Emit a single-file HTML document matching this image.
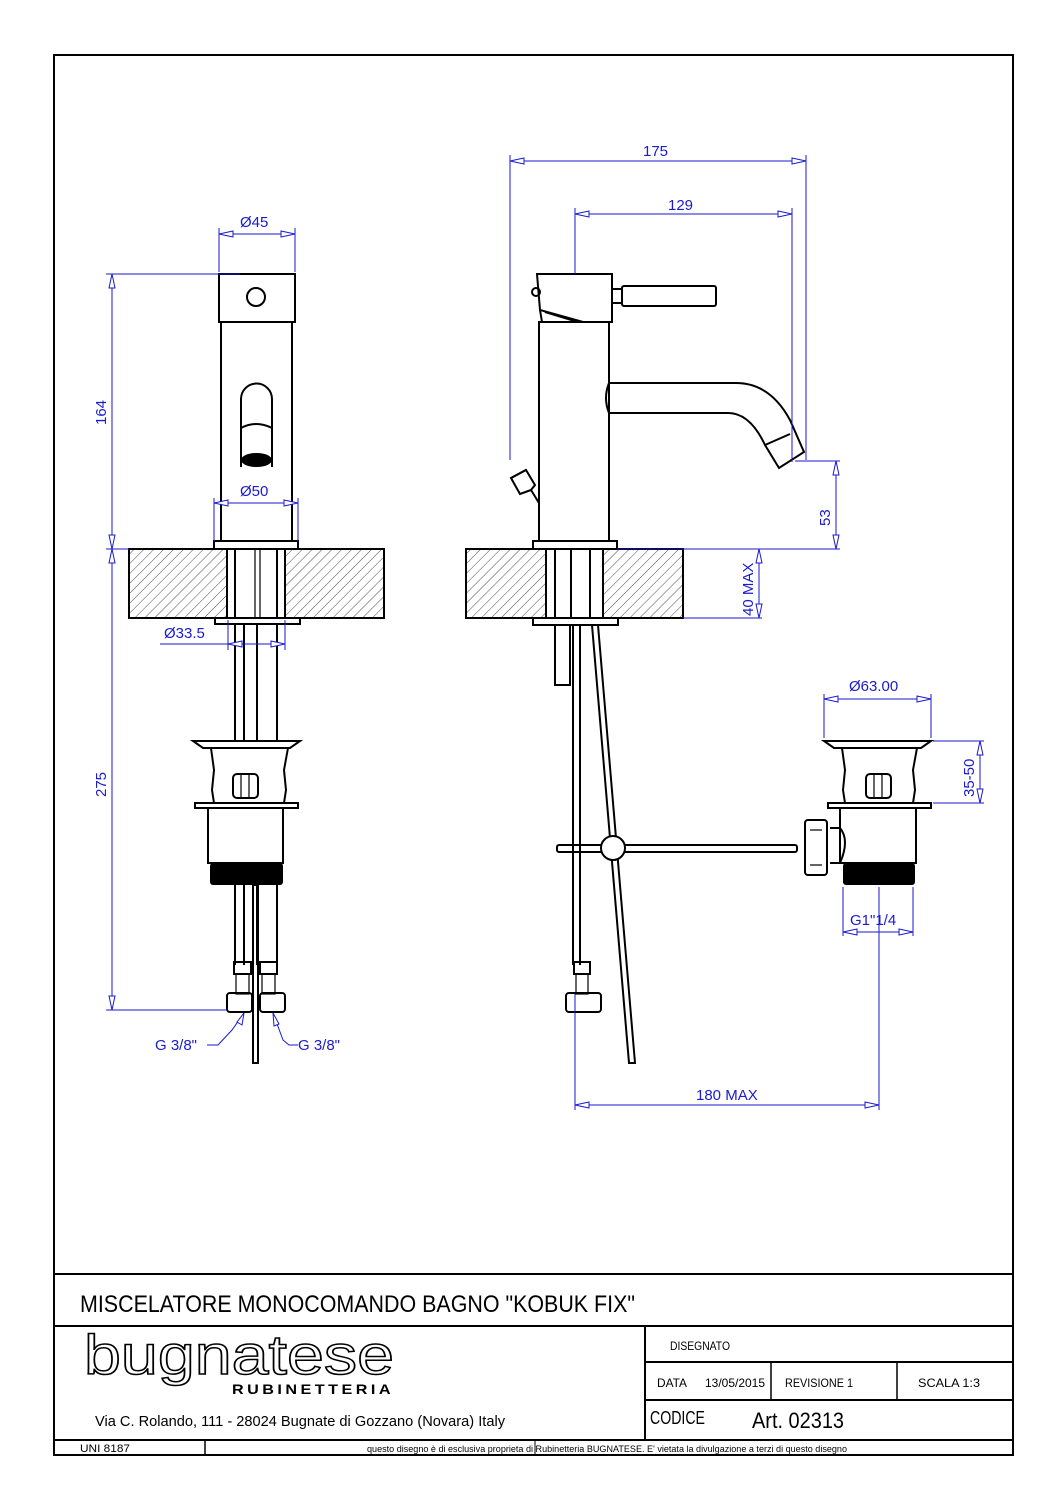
<!DOCTYPE html>
<html><head><meta charset="utf-8"><style>
html,body{margin:0;padding:0;background:#fff}
svg{display:block}
.k{fill:none;stroke:#000;stroke-width:2}
.t{fill:none;stroke:#000;stroke-width:1.2}
.b{fill:none;stroke:#1a1ad0;stroke-width:1}
.bt{fill:#1a1ad0;font-family:"Liberation Sans",sans-serif;font-size:15px}
.ar{fill:#fff;stroke:#1a1ad0;stroke-width:1}
.tb{font-family:"Liberation Sans",sans-serif;fill:#000}
</style></head><body>
<svg width="1060" height="1500" viewBox="0 0 1060 1500" xmlns="http://www.w3.org/2000/svg">
<defs>
<pattern id="h" width="7" height="7" patternUnits="userSpaceOnUse" patternTransform="rotate(45)">
<line x1="0" y1="0" x2="0" y2="7" stroke="#000" stroke-width="0.7"/></pattern>
</defs>
<!-- frame -->
<rect x="54" y="55" width="959" height="1400" fill="none" stroke="#000" stroke-width="2"/>
<line x1="54" y1="1274" x2="1013" y2="1274" stroke="#000" stroke-width="2"/>
<line x1="54" y1="1326" x2="1013" y2="1326" stroke="#000" stroke-width="2"/>
<line x1="645" y1="1326" x2="645" y2="1440" stroke="#000" stroke-width="2"/>
<line x1="645" y1="1362" x2="1013" y2="1362" stroke="#000" stroke-width="2"/>
<line x1="645" y1="1400" x2="1013" y2="1400" stroke="#000" stroke-width="2"/>
<line x1="771" y1="1362" x2="771" y2="1400" stroke="#000" stroke-width="1.5"/>
<line x1="897" y1="1362" x2="897" y2="1400" stroke="#000" stroke-width="1.5"/>
<line x1="54" y1="1440" x2="1013" y2="1440" stroke="#000" stroke-width="2"/>
<line x1="205" y1="1440" x2="205" y2="1455" stroke="#000" stroke-width="1.5"/>
<line x1="535" y1="1440" x2="535" y2="1455" stroke="#000" stroke-width="1"/>

<text class="tb" x="80" y="1312" font-size="24" textLength="555" lengthAdjust="spacingAndGlyphs">MISCELATORE MONOCOMANDO BAGNO "KOBUK FIX"</text>
<text x="84" y="1374" font-family="Liberation Sans,sans-serif" font-size="56" fill="#fff" stroke="#000" stroke-width="1.5" textLength="310" lengthAdjust="spacingAndGlyphs">bugnatese</text>
<text class="tb" x="232" y="1394" font-size="14" font-weight="bold" letter-spacing="3" textLength="162" lengthAdjust="spacingAndGlyphs">RUBINETTERIA</text>
<text class="tb" x="95" y="1426" font-size="15" textLength="410" lengthAdjust="spacingAndGlyphs">Via C. Rolando, 111 - 28024 Bugnate di Gozzano (Novara) Italy</text>
<text class="tb" x="670" y="1350" font-size="12" textLength="60" lengthAdjust="spacingAndGlyphs">DISEGNATO</text>
<text class="tb" x="657" y="1387" font-size="12" textLength="30" lengthAdjust="spacingAndGlyphs">DATA</text>
<text class="tb" x="705" y="1387" font-size="12" textLength="60" lengthAdjust="spacingAndGlyphs">13/05/2015</text>
<text class="tb" x="785" y="1387" font-size="12" textLength="68" lengthAdjust="spacingAndGlyphs">REVISIONE 1</text>
<text class="tb" x="918" y="1387" font-size="12" textLength="62" lengthAdjust="spacingAndGlyphs">SCALA   1:3</text>
<text class="tb" x="650" y="1424" font-size="18" textLength="55" lengthAdjust="spacingAndGlyphs">CODICE</text>
<text class="tb" x="752" y="1428" font-size="22" textLength="92" lengthAdjust="spacingAndGlyphs">Art. 02313</text>
<text class="tb" x="80" y="1452" font-size="11" textLength="50" lengthAdjust="spacingAndGlyphs">UNI 8187</text>
<text class="tb" x="367" y="1452" font-size="9" textLength="480" lengthAdjust="spacingAndGlyphs">questo disegno è di esclusiva proprieta di Rubinetteria BUGNATESE. E' vietata la divulgazione a terzi di questo disegno</text>

<!-- FRONT VIEW -->
<rect class="k" x="219" y="274" width="76" height="48"/>
<circle class="k" cx="256" cy="297" r="9"/>
<rect class="k" x="221" y="322" width="71" height="219"/>
<path class="k" d="M241,467 V399 A15.5,15.5 0 0 1 272,399 V467"/>
<path class="k" d="M241,428 Q256,420 272,428"/>
<ellipse cx="256.5" cy="460" rx="15.5" ry="7" fill="#000"/>
<rect class="k" x="214" y="541" width="84" height="8"/>
<rect x="129" y="549" width="98" height="69" fill="url(#h)" stroke="#000" stroke-width="2"/>
<rect x="285" y="549" width="99" height="69" fill="url(#h)" stroke="#000" stroke-width="2"/>
<line class="k" x1="235" y1="549" x2="235" y2="618"/>
<line class="k" x1="277" y1="549" x2="277" y2="618"/>
<line class="t" x1="255" y1="549" x2="255" y2="618"/>
<line class="t" x1="260" y1="549" x2="260" y2="618"/>
<path class="k" d="M215,618 H300 V624 H215 Z"/>
<line class="k" x1="235" y1="624" x2="235" y2="741"/>
<line class="k" x1="244" y1="624" x2="244" y2="741"/>
<line class="k" x1="257" y1="624" x2="257" y2="741"/>
<line class="k" x1="277" y1="624" x2="277" y2="741"/>
<path class="k" d="M193,741 H300 L290,748 H203 Z"/>
<path class="k" d="M211,748 L214,770 L212,790 L214,803 H284 L286,790 L284,770 L288,748"/>
<rect class="k" x="233" y="774" width="25" height="24" rx="4"/>
<line class="t" x1="241" y1="774" x2="241" y2="798"/><line class="t" x1="249" y1="774" x2="249" y2="798"/>
<rect class="k" x="195" y="803" width="103" height="5"/>
<path class="k" d="M208,808 V863 H283 V808"/>
<rect x="210" y="863" width="73" height="22" rx="3" fill="#000"/>
<line class="k" x1="235" y1="885" x2="235" y2="965"/>
<line class="k" x1="244" y1="885" x2="244" y2="965"/>
<line class="k" x1="257" y1="885" x2="257" y2="965"/>
<line class="k" x1="277" y1="885" x2="277" y2="965"/>
<rect class="k" x="253" y="885" width="5" height="178"/>
<rect class="k" x="234" y="962" width="17" height="12"/><rect class="k" x="260" y="962" width="17" height="12"/>
<rect class="t" x="236" y="974" width="13" height="20"/><rect class="t" x="262" y="974" width="13" height="20"/>
<rect class="k" x="227" y="993" width="25" height="19" rx="3"/><rect class="k" x="260" y="993" width="25" height="19" rx="3"/>

<!-- front dims -->
<path class="b" d="M219,272 V228 M295,272 V228 M219,234 H295"/>
<path class="ar" d="M219,234 l14,-3 v6 z M295,234 l-14,-3 v6 z"/>
<text class="bt" x="240" y="227">Ø45</text>
<path class="b" d="M106,274 H240 M106,549 H129 M112,274 V1010 M106,1010 H227"/>
<path class="ar" d="M112,274 l-3,14 h6 z M112,549 l-3,-14 h6 z M112,549 l-3,14 h6 z M112,1010 l-3,-14 h6 z"/>
<text class="bt" transform="translate(106,425) rotate(-90)">164</text>
<text class="bt" transform="translate(106,797) rotate(-90)">275</text>
<path class="b" d="M214,498 V541 M298,498 V541 M214,503 H298"/>
<path class="ar" d="M214,503 l14,-3 v6 z M298,503 l-14,-3 v6 z"/>
<text class="bt" x="240" y="496">Ø50</text>
<path class="b" d="M228,620 V650 M285,620 V650 M160,644 H285"/>
<path class="ar" d="M228,644 l14,-3 v6 z M285,644 l-14,-3 v6 z"/>
<text class="bt" x="164" y="638">Ø33.5</text>
<path class="b" d="M244,1013 L232,1030 L218,1045 H207 M273,1013 L283,1040 L289,1045 H298"/>
<path class="ar" d="M244,1013 l-2,12 -5,-3 z M273,1013 l6,11 -5,2 z"/>
<text class="bt" x="155" y="1050">G 3/8"</text>
<text class="bt" x="298" y="1050">G 3/8"</text>

<!-- SIDE VIEW -->
<path class="k" d="M537,274 H612 V322 H583 L540,310 Z"/>
<circle class="k" cx="536" cy="292" r="4"/>
<rect class="k" x="612" y="289" width="10" height="14"/>
<rect class="k" x="622" y="286" width="94" height="20" rx="2"/>
<path class="k" d="M540,310 L542,322 M545,312 L578,322"/>
<rect class="k" x="539" y="322" width="70" height="219"/>
<path class="k" d="M609,383 H736 Q770,383 790,420 L804,452 L779,468 L765,445 Q750,413 728,413 H609 Q603,398 609,383"/>
<path class="k" d="M765,445 L790,434"/>
<path class="k" d="M539,503 L531,490 L535,485 L526,470 L511,478 L520,494 L531,490"/>
<path class="k" d="M511,478 L526,470"/>
<rect class="k" x="533" y="541" width="84" height="8"/>
<rect x="466" y="549" width="80" height="69" fill="url(#h)" stroke="#000" stroke-width="2"/>
<rect x="603" y="549" width="80" height="69" fill="url(#h)" stroke="#000" stroke-width="2"/>
<line class="k" x1="555" y1="549" x2="555" y2="618"/>
<line class="k" x1="571" y1="549" x2="571" y2="618"/>
<line class="k" x1="590" y1="549" x2="590" y2="618"/>
<path class="k" d="M533,618 H618 V625 H533 Z"/>
<rect class="k" x="555" y="625" width="15" height="60"/>
<line class="k" x1="573" y1="625" x2="573" y2="965"/>
<line class="k" x1="580" y1="625" x2="580" y2="965"/>
<path class="k" d="M592,625 L629,1063 H635 L598,625"/>
<rect class="k" x="557" y="845" width="240" height="7" rx="2"/>
<circle cx="613" cy="848" r="12" fill="#fff" stroke="#000" stroke-width="2"/>
<rect class="k" x="574" y="962" width="16" height="12"/>
<rect class="t" x="576" y="974" width="12" height="20"/>
<rect class="k" x="566" y="993" width="35" height="19" rx="3"/>
<!-- side drain -->
<path class="k" d="M824,741 H931 L921,748 H834 Z"/>
<path class="k" d="M842,748 L845,770 L843,790 L845,803 H913 L915,790 L913,770 L917,748"/>
<rect class="k" x="866" y="774" width="25" height="24" rx="4"/>
<line class="t" x1="874" y1="774" x2="874" y2="798"/><line class="t" x1="882" y1="774" x2="882" y2="798"/>
<rect class="k" x="828" y="803" width="103" height="5"/>
<path class="k" d="M840,808 V863 H916 V808"/>
<path class="k" d="M830,828 H840 Q850,840 840,863 H830"/>
<rect class="k" x="805" y="820" width="22" height="55" rx="3"/>
<line class="t" x1="810" y1="830" x2="822" y2="830"/><line class="t" x1="810" y1="865" x2="822" y2="865"/>
<rect x="843" y="863" width="72" height="22" rx="3" fill="#000"/>

<!-- side dims -->
<path class="b" d="M510,155 V460 M806,155 V460 M510,161 H806"/>
<path class="ar" d="M510,161 l14,-3 v6 z M806,161 l-14,-3 v6 z"/>
<text class="bt" x="643" y="156">175</text>
<path class="b" d="M575,208 V274 M792,208 V462 M575,214 H792"/>
<path class="ar" d="M575,214 l14,-3 v6 z M792,214 l-14,-3 v6 z"/>
<text class="bt" x="668" y="210">129</text>
<path class="b" d="M795,461 H840 M617,549 H840 M836,461 V549 M683,549 H738 M683,618 H762 M759,549 V618"/>
<path class="ar" d="M836,461 l-3,14 h6 z M836,549 l-3,-14 h6 z M759,549 l-3,14 h6 z M759,618 l-3,-14 h6 z"/>
<text class="bt" transform="translate(830,526) rotate(-90)">53</text>
<text class="bt" transform="translate(753,616) rotate(-90)">40 MAX</text>
<path class="b" d="M824,694 V738 M931,694 V738 M824,699 H931"/>
<path class="ar" d="M824,699 l14,-3 v6 z M931,699 l-14,-3 v6 z"/>
<text class="bt" x="849" y="691">Ø63.00</text>
<path class="b" d="M933,741 H984 M933,803 H984 M980,741 V803"/>
<path class="ar" d="M980,741 l-3,14 h6 z M980,803 l-3,-14 h6 z"/>
<text class="bt" transform="translate(974,797) rotate(-90)">35-50</text>
<path class="b" d="M843,887 V936 M913,887 V936 M843,932 H913 M879,887 V1110 M575,994 V1110 M575,1105 H879"/>
<path class="ar" d="M843,932 l14,-3 v6 z M913,932 l-14,-3 v6 z M575,1105 l14,-3 v6 z M879,1105 l-14,-3 v6 z"/>
<text class="bt" x="850" y="925">G1"1/4</text>
<text class="bt" x="696" y="1100">180 MAX</text>
</svg>
</body></html>
